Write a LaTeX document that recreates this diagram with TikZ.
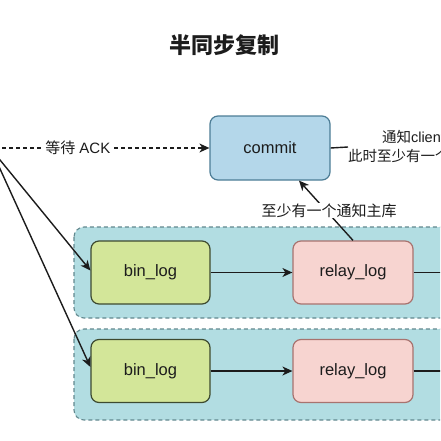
\documentclass[tikz,border=0pt]{standalone}
\usepackage{fontspec}
\setmainfont{Liberation Sans}
\newfontfamily\cjk{Noto Sans CJK SC}
\usetikzlibrary{arrows.meta,calc}
\definecolor{commitfill}{HTML}{B4D7EA}
\definecolor{commitdraw}{HTML}{4D7D96}
\definecolor{contfill}{HTML}{B2DDE2}
\definecolor{contdraw}{HTML}{62888E}
\definecolor{binfill}{HTML}{D3E699}
\definecolor{bindraw}{HTML}{3D4A30}
\definecolor{relayfill}{HTML}{F7D4D0}
\definecolor{relaydraw}{HTML}{A8736F}
\definecolor{txt}{HTML}{1C1C1C}
\tikzset{
  x=1pt, y=-1pt,
  tip/.style={-{Stealth[length=10pt,width=9pt,inset=3pt]}},
  conn/.style={line width=1.4pt, draw=txt, tip},
  plainline/.style={line width=1.4pt, draw=txt},
  boxbase/.style={rounded corners=8pt, line width=1.2pt, inner sep=0pt,
    minimum width=120pt, minimum height=63pt, font=\fontsize{16.5}{19}\selectfont, text=txt},
  commitbox/.style={boxbase, fill=commitfill, draw=commitdraw, minimum height=64pt},
  binbox/.style={boxbase, fill=binfill, draw=bindraw, minimum width=119pt},
  relaybox/.style={boxbase, fill=relayfill, draw=relaydraw},
  container/.style={rounded corners=10pt, fill=contfill, draw=contdraw, line width=1.1pt,
    dash pattern=on 4pt off 3pt},
  lbl/.style={fill=white, inner sep=1pt, text=txt, font=\fontsize{15}{19}\selectfont},
}
\begin{document}
\begin{tikzpicture}
\useasboundingbox (0,0) rectangle (440,441);
\clip (0,0) rectangle (440,441);
\fill[white] (0,0) rectangle (440,441);

\node[font=\cjk\bfseries\fontsize{22}{26}\selectfont, text=txt] (title) at (224,45) {半同步复制};

% containers
\draw[container] (74,227) rectangle (470,318);
\draw[container] (74,329) rectangle (470,420);

% nodes
\node[commitbox] (commit) at (270,148) {commit};
\node[binbox] (bin1) at (150.5,272.5) {bin\_log};
\node[binbox] (bin2) at (150.5,371) {bin\_log};
\node[relaybox] (relay1) at (353,272.5) {relay\_log};
\node[relaybox] (relay2) at (353,371) {relay\_log};

\node[text=txt, font=\fontsize{14.5}{19}\selectfont, align=center, inner sep=0pt, anchor=west]
  (notify) at (348,147) {{\cjk 通知}client\\{\cjk 此时至少有一个从库}};

% off-picture coordinates
\coordinate (ackstart) at (-5,148);
\coordinate (srcA) at (-25,129.4);
\coordinate (srcB) at (-25,114);
\coordinate (out1) at (450,272.5);
\coordinate (out2) at (450,371);

% connectors
\draw[conn, dash pattern=on 4pt off 3pt] (ackstart) -- (commit.west)
  node[lbl, pos=0.386] {{\cjk 等待} ACK};
\draw[plainline] (commit.east) -- (notify.west);
\draw[conn] (relay1.north) -- ($(commit.south)+(29,0)$)
  node[lbl, midway, xshift=3pt] {\cjk 至少有一个通知主库};

\draw[conn] (srcA) -- ($(bin1.west)+(0,-2)$);
\draw[conn] (srcB) -- ($(bin2.west)+(0,-4)$);
\draw[conn] (bin1) -- (relay1);
\draw[conn] (bin2) -- (relay2);
\draw[plainline] (relay1.east) -- (out1);
\draw[plainline] (relay2.east) -- (out2);
\end{tikzpicture}
\end{document}
